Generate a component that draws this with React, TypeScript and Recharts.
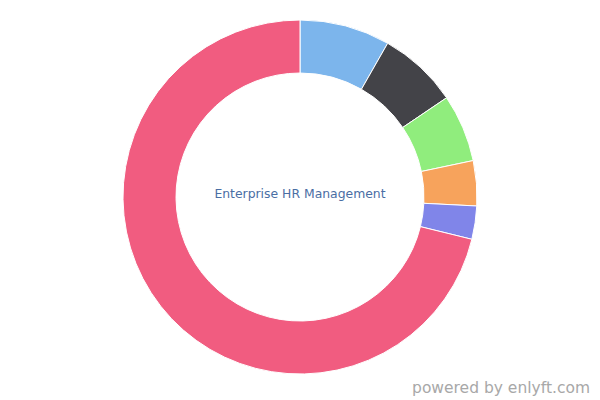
import React from "react";
import { PieChart, Pie, Cell, Label } from "recharts";

const categories = ["A", "B", "C", "D", "E", "Enterprise HR Management"];
const values = [8.25, 7.28, 6.17, 4.11, 3.03, 71.16];
const colors = ["#7cb5ec", "#434348", "#90ed7d", "#f7a35c", "#8085e9", "#f15c80"];
const centerTitle = "Enterprise HR Management";
const credit = "powered by enlyft.com";

const data = categories.map((name, i) => ({ name, value: values[i] }));

const CenterTitle = (props: any) => {
  const vb = props.viewBox || {};
  const cx = vb.cx ?? 300;
  const cy = vb.cy ?? 197;
  return (
    <text
      x={cx}
      y={cy - 4}
      textAnchor="middle"
      dominantBaseline="central"
      fill="#4a6ea4"
      style={{ fontFamily: "DejaVu Sans", fontSize: 12.4 }}
    >
      {centerTitle}
    </text>
  );
};

export default function App() {
  return (
    <div style={{ position: "absolute", left: 0, top: 0, width: 600, height: 400, background: "#fff" }}>
      <PieChart width={600} height={400} margin={{ top: 0, right: 0, bottom: 0, left: 0 }}>
        <Pie
          data={data}
          dataKey="value"
          nameKey="name"
          cx={300}
          cy={197}
          innerRadius={124}
          outerRadius={177}
          startAngle={90}
          endAngle={-270}
          stroke="#ffffff"
          strokeWidth={1}
          isAnimationActive={false}
        >
          {data.map((d, i) => (
            <Cell key={d.name} fill={colors[i]} />
          ))}
          <Label position="center" content={CenterTitle} />
        </Pie>
      </PieChart>
      <div
        style={{
          position: "absolute",
          right: 10,
          top: 379,
          fontFamily: "DejaVu Sans",
          fontSize: 15.5,
          color: "#a8a8a8",
          lineHeight: "18px",
        }}
      >
        {credit}
      </div>
    </div>
  );
}
